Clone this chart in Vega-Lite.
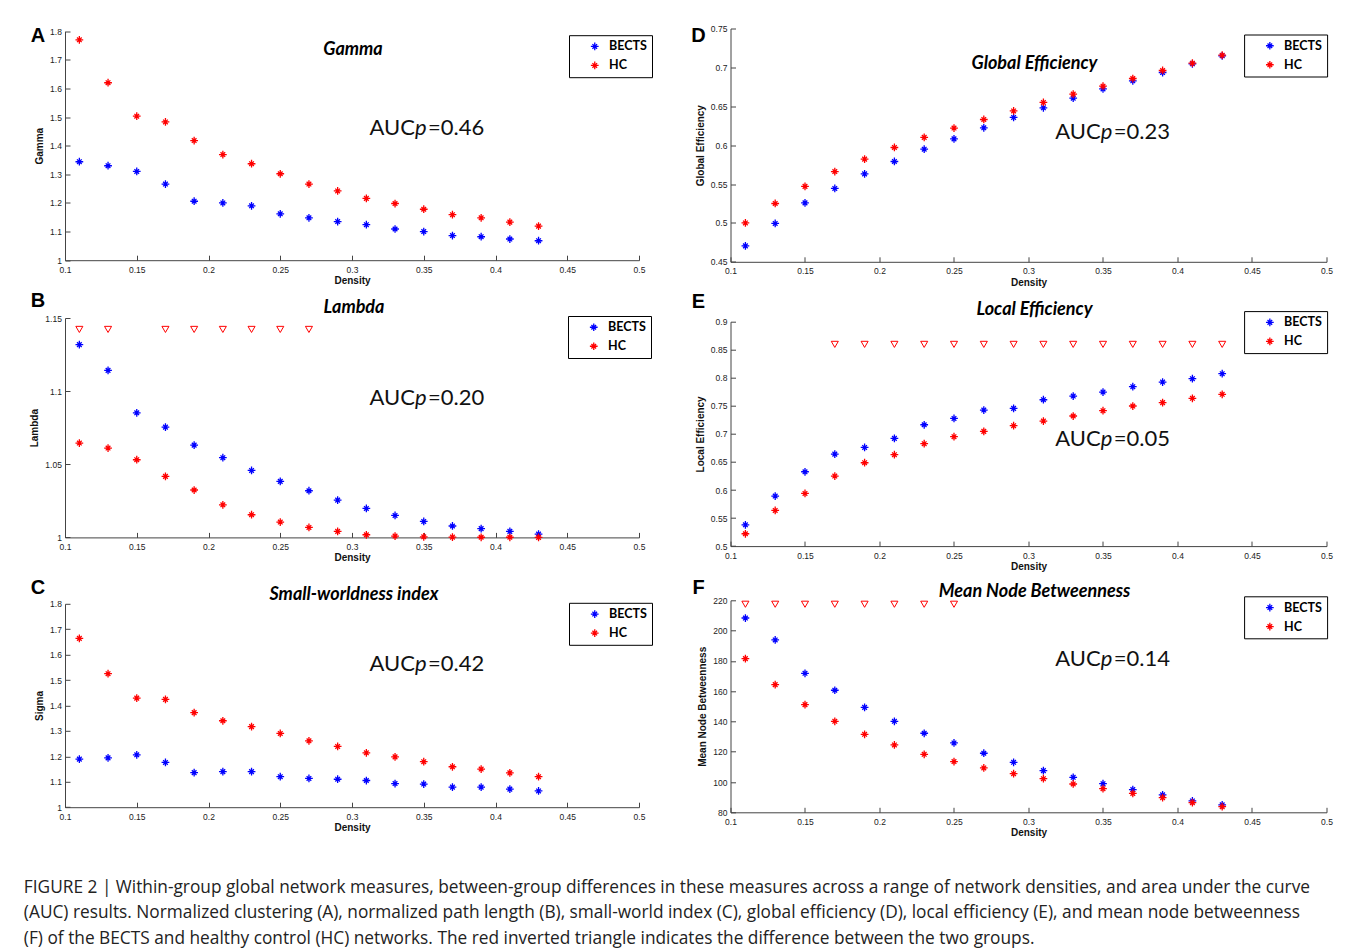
{
"$schema":"https://vega.github.io/schema/vega-lite/v6.json",
"background":"#ffffff",
"padding":{"left":23,"top":24.5,"right":5,"bottom":5},
"datasets":{
"pts":[
{"p":"A","g":"BECTS","d":0.11,"v":1.344},{"p":"A","g":"BECTS","d":0.13,"v":1.330},{"p":"A","g":"BECTS","d":0.15,"v":1.310},{"p":"A","g":"BECTS","d":0.17,"v":1.266},{"p":"A","g":"BECTS","d":0.19,"v":1.206},{"p":"A","g":"BECTS","d":0.21,"v":1.200},{"p":"A","g":"BECTS","d":0.23,"v":1.190},{"p":"A","g":"BECTS","d":0.25,"v":1.162},{"p":"A","g":"BECTS","d":0.27,"v":1.148},{"p":"A","g":"BECTS","d":0.29,"v":1.135},{"p":"A","g":"BECTS","d":0.31,"v":1.124},{"p":"A","g":"BECTS","d":0.33,"v":1.109},{"p":"A","g":"BECTS","d":0.35,"v":1.100},{"p":"A","g":"BECTS","d":0.37,"v":1.086},{"p":"A","g":"BECTS","d":0.39,"v":1.082},{"p":"A","g":"BECTS","d":0.41,"v":1.074},{"p":"A","g":"BECTS","d":0.43,"v":1.068},
{"p":"A","g":"HC","d":0.11,"v":1.770},{"p":"A","g":"HC","d":0.13,"v":1.620},{"p":"A","g":"HC","d":0.15,"v":1.503},{"p":"A","g":"HC","d":0.17,"v":1.483},{"p":"A","g":"HC","d":0.19,"v":1.418},{"p":"A","g":"HC","d":0.21,"v":1.369},{"p":"A","g":"HC","d":0.23,"v":1.337},{"p":"A","g":"HC","d":0.25,"v":1.302},{"p":"A","g":"HC","d":0.27,"v":1.266},{"p":"A","g":"HC","d":0.29,"v":1.242},{"p":"A","g":"HC","d":0.31,"v":1.216},{"p":"A","g":"HC","d":0.33,"v":1.198},{"p":"A","g":"HC","d":0.35,"v":1.178},{"p":"A","g":"HC","d":0.37,"v":1.159},{"p":"A","g":"HC","d":0.39,"v":1.148},{"p":"A","g":"HC","d":0.41,"v":1.133},{"p":"A","g":"HC","d":0.43,"v":1.119},
{"p":"B","g":"BECTS","d":0.11,"v":1.1318},{"p":"B","g":"BECTS","d":0.13,"v":1.1142},{"p":"B","g":"BECTS","d":0.15,"v":1.0852},{"p":"B","g":"BECTS","d":0.17,"v":1.0754},{"p":"B","g":"BECTS","d":0.19,"v":1.0631},{"p":"B","g":"BECTS","d":0.21,"v":1.0545},{"p":"B","g":"BECTS","d":0.23,"v":1.0458},{"p":"B","g":"BECTS","d":0.25,"v":1.0383},{"p":"B","g":"BECTS","d":0.27,"v":1.0319},{"p":"B","g":"BECTS","d":0.29,"v":1.0255},{"p":"B","g":"BECTS","d":0.31,"v":1.0198},{"p":"B","g":"BECTS","d":0.33,"v":1.0150},{"p":"B","g":"BECTS","d":0.35,"v":1.0109},{"p":"B","g":"BECTS","d":0.37,"v":1.0078},{"p":"B","g":"BECTS","d":0.39,"v":1.0060},{"p":"B","g":"BECTS","d":0.41,"v":1.0041},{"p":"B","g":"BECTS","d":0.43,"v":1.0023},
{"p":"B","g":"HC","d":0.11,"v":1.0645},{"p":"B","g":"HC","d":0.13,"v":1.0611},{"p":"B","g":"HC","d":0.15,"v":1.0531},{"p":"B","g":"HC","d":0.17,"v":1.0417},{"p":"B","g":"HC","d":0.19,"v":1.0324},{"p":"B","g":"HC","d":0.21,"v":1.0223},{"p":"B","g":"HC","d":0.23,"v":1.0155},{"p":"B","g":"HC","d":0.25,"v":1.0105},{"p":"B","g":"HC","d":0.27,"v":1.0068},{"p":"B","g":"HC","d":0.29,"v":1.0041},{"p":"B","g":"HC","d":0.31,"v":1.0018},{"p":"B","g":"HC","d":0.33,"v":1.0009},{"p":"B","g":"HC","d":0.35,"v":1.0004},{"p":"B","g":"HC","d":0.37,"v":1.0002},{"p":"B","g":"HC","d":0.39,"v":1.0001},{"p":"B","g":"HC","d":0.41,"v":1.0001},{"p":"B","g":"HC","d":0.43,"v":1.0000},
{"p":"C","g":"BECTS","d":0.11,"v":1.189},{"p":"C","g":"BECTS","d":0.13,"v":1.194},{"p":"C","g":"BECTS","d":0.15,"v":1.206},{"p":"C","g":"BECTS","d":0.17,"v":1.176},{"p":"C","g":"BECTS","d":0.19,"v":1.136},{"p":"C","g":"BECTS","d":0.21,"v":1.140},{"p":"C","g":"BECTS","d":0.23,"v":1.140},{"p":"C","g":"BECTS","d":0.25,"v":1.120},{"p":"C","g":"BECTS","d":0.27,"v":1.113},{"p":"C","g":"BECTS","d":0.29,"v":1.110},{"p":"C","g":"BECTS","d":0.31,"v":1.105},{"p":"C","g":"BECTS","d":0.33,"v":1.093},{"p":"C","g":"BECTS","d":0.35,"v":1.091},{"p":"C","g":"BECTS","d":0.37,"v":1.079},{"p":"C","g":"BECTS","d":0.39,"v":1.079},{"p":"C","g":"BECTS","d":0.41,"v":1.071},{"p":"C","g":"BECTS","d":0.43,"v":1.064},
{"p":"C","g":"HC","d":0.11,"v":1.664},{"p":"C","g":"HC","d":0.13,"v":1.525},{"p":"C","g":"HC","d":0.15,"v":1.429},{"p":"C","g":"HC","d":0.17,"v":1.424},{"p":"C","g":"HC","d":0.19,"v":1.372},{"p":"C","g":"HC","d":0.21,"v":1.340},{"p":"C","g":"HC","d":0.23,"v":1.317},{"p":"C","g":"HC","d":0.25,"v":1.290},{"p":"C","g":"HC","d":0.27,"v":1.261},{"p":"C","g":"HC","d":0.29,"v":1.239},{"p":"C","g":"HC","d":0.31,"v":1.214},{"p":"C","g":"HC","d":0.33,"v":1.198},{"p":"C","g":"HC","d":0.35,"v":1.179},{"p":"C","g":"HC","d":0.37,"v":1.159},{"p":"C","g":"HC","d":0.39,"v":1.150},{"p":"C","g":"HC","d":0.41,"v":1.135},{"p":"C","g":"HC","d":0.43,"v":1.120},
{"p":"D","g":"BECTS","d":0.11,"v":0.4705},{"p":"D","g":"BECTS","d":0.13,"v":0.4993},{"p":"D","g":"BECTS","d":0.15,"v":0.5258},{"p":"D","g":"BECTS","d":0.17,"v":0.5443},{"p":"D","g":"BECTS","d":0.19,"v":0.5631},{"p":"D","g":"BECTS","d":0.21,"v":0.5790},{"p":"D","g":"BECTS","d":0.23,"v":0.5948},{"p":"D","g":"BECTS","d":0.25,"v":0.6081},{"p":"D","g":"BECTS","d":0.27,"v":0.6223},{"p":"D","g":"BECTS","d":0.29,"v":0.6356},{"p":"D","g":"BECTS","d":0.31,"v":0.6480},{"p":"D","g":"BECTS","d":0.33,"v":0.6604},{"p":"D","g":"BECTS","d":0.35,"v":0.6724},{"p":"D","g":"BECTS","d":0.37,"v":0.6827},{"p":"D","g":"BECTS","d":0.39,"v":0.6934},{"p":"D","g":"BECTS","d":0.41,"v":0.7046},{"p":"D","g":"BECTS","d":0.43,"v":0.7149},
{"p":"D","g":"HC","d":0.11,"v":0.500},{"p":"D","g":"HC","d":0.13,"v":0.525},{"p":"D","g":"HC","d":0.15,"v":0.547},{"p":"D","g":"HC","d":0.17,"v":0.566},{"p":"D","g":"HC","d":0.19,"v":0.582},{"p":"D","g":"HC","d":0.21,"v":0.597},{"p":"D","g":"HC","d":0.23,"v":0.610},{"p":"D","g":"HC","d":0.25,"v":0.622},{"p":"D","g":"HC","d":0.27,"v":0.633},{"p":"D","g":"HC","d":0.29,"v":0.644},{"p":"D","g":"HC","d":0.31,"v":0.6549},{"p":"D","g":"HC","d":0.33,"v":0.6656},{"p":"D","g":"HC","d":0.35,"v":0.6758},{"p":"D","g":"HC","d":0.37,"v":0.6857},{"p":"D","g":"HC","d":0.39,"v":0.6960},{"p":"D","g":"HC","d":0.41,"v":0.7054},{"p":"D","g":"HC","d":0.43,"v":0.7157},
{"p":"E","g":"BECTS","d":0.11,"v":0.5380},{"p":"E","g":"BECTS","d":0.13,"v":0.5892},{"p":"E","g":"BECTS","d":0.15,"v":0.6325},{"p":"E","g":"BECTS","d":0.17,"v":0.6640},{"p":"E","g":"BECTS","d":0.19,"v":0.6759},{"p":"E","g":"BECTS","d":0.21,"v":0.6920},{"p":"E","g":"BECTS","d":0.23,"v":0.7163},{"p":"E","g":"BECTS","d":0.25,"v":0.7276},{"p":"E","g":"BECTS","d":0.27,"v":0.7425},{"p":"E","g":"BECTS","d":0.29,"v":0.7455},{"p":"E","g":"BECTS","d":0.31,"v":0.7609},{"p":"E","g":"BECTS","d":0.33,"v":0.7675},{"p":"E","g":"BECTS","d":0.35,"v":0.7746},{"p":"E","g":"BECTS","d":0.37,"v":0.7841},{"p":"E","g":"BECTS","d":0.39,"v":0.7924},{"p":"E","g":"BECTS","d":0.41,"v":0.7984},{"p":"E","g":"BECTS","d":0.43,"v":0.8073},
{"p":"E","g":"HC","d":0.11,"v":0.5220},{"p":"E","g":"HC","d":0.13,"v":0.5636},{"p":"E","g":"HC","d":0.15,"v":0.5939},{"p":"E","g":"HC","d":0.17,"v":0.6248},{"p":"E","g":"HC","d":0.19,"v":0.6486},{"p":"E","g":"HC","d":0.21,"v":0.6629},{"p":"E","g":"HC","d":0.23,"v":0.6825},{"p":"E","g":"HC","d":0.25,"v":0.6950},{"p":"E","g":"HC","d":0.27,"v":0.7045},{"p":"E","g":"HC","d":0.29,"v":0.7146},{"p":"E","g":"HC","d":0.31,"v":0.7229},{"p":"E","g":"HC","d":0.33,"v":0.7319},{"p":"E","g":"HC","d":0.35,"v":0.7414},{"p":"E","g":"HC","d":0.37,"v":0.7497},{"p":"E","g":"HC","d":0.39,"v":0.7557},{"p":"E","g":"HC","d":0.41,"v":0.7634},{"p":"E","g":"HC","d":0.43,"v":0.7706},
{"p":"F","g":"BECTS","d":0.11,"v":208.3},{"p":"F","g":"BECTS","d":0.13,"v":193.8},{"p":"F","g":"BECTS","d":0.15,"v":171.8},{"p":"F","g":"BECTS","d":0.17,"v":160.6},{"p":"F","g":"BECTS","d":0.19,"v":149.3},{"p":"F","g":"BECTS","d":0.21,"v":140.1},{"p":"F","g":"BECTS","d":0.23,"v":132.2},{"p":"F","g":"BECTS","d":0.25,"v":125.8},{"p":"F","g":"BECTS","d":0.27,"v":119.0},{"p":"F","g":"BECTS","d":0.29,"v":113.0},{"p":"F","g":"BECTS","d":0.31,"v":107.5},{"p":"F","g":"BECTS","d":0.33,"v":103.1},{"p":"F","g":"BECTS","d":0.35,"v":98.9},{"p":"F","g":"BECTS","d":0.37,"v":95.0},{"p":"F","g":"BECTS","d":0.39,"v":91.5},{"p":"F","g":"BECTS","d":0.41,"v":87.5},{"p":"F","g":"BECTS","d":0.43,"v":84.9},
{"p":"F","g":"HC","d":0.11,"v":181.5},{"p":"F","g":"HC","d":0.13,"v":164.3},{"p":"F","g":"HC","d":0.15,"v":151.1},{"p":"F","g":"HC","d":0.17,"v":140.1},{"p":"F","g":"HC","d":0.19,"v":131.5},{"p":"F","g":"HC","d":0.21,"v":124.5},{"p":"F","g":"HC","d":0.23,"v":118.3},{"p":"F","g":"HC","d":0.25,"v":113.5},{"p":"F","g":"HC","d":0.27,"v":109.3},{"p":"F","g":"HC","d":0.29,"v":105.5},{"p":"F","g":"HC","d":0.31,"v":102.2},{"p":"F","g":"HC","d":0.33,"v":98.7},{"p":"F","g":"HC","d":0.35,"v":95.6},{"p":"F","g":"HC","d":0.37,"v":92.5},{"p":"F","g":"HC","d":0.39,"v":89.7},{"p":"F","g":"HC","d":0.41,"v":86.4},{"p":"F","g":"HC","d":0.43,"v":83.7}
],
"sig":[
{"p":"B","d":0.11,"v":1.1422},{"p":"B","d":0.13,"v":1.1422},{"p":"B","d":0.17,"v":1.1422},{"p":"B","d":0.19,"v":1.1422},{"p":"B","d":0.21,"v":1.1422},{"p":"B","d":0.23,"v":1.1422},{"p":"B","d":0.25,"v":1.1422},{"p":"B","d":0.27,"v":1.1422},
{"p":"E","d":0.17,"v":0.8596},{"p":"E","d":0.19,"v":0.8596},{"p":"E","d":0.21,"v":0.8596},{"p":"E","d":0.23,"v":0.8596},{"p":"E","d":0.25,"v":0.8596},{"p":"E","d":0.27,"v":0.8596},{"p":"E","d":0.29,"v":0.8596},{"p":"E","d":0.31,"v":0.8596},{"p":"E","d":0.33,"v":0.8596},{"p":"E","d":0.35,"v":0.8596},{"p":"E","d":0.37,"v":0.8596},{"p":"E","d":0.39,"v":0.8596},{"p":"E","d":0.41,"v":0.8596},{"p":"E","d":0.43,"v":0.8596},
{"p":"F","d":0.11,"v":217.4},{"p":"F","d":0.13,"v":217.4},{"p":"F","d":0.15,"v":217.4},{"p":"F","d":0.17,"v":217.4},{"p":"F","d":0.19,"v":217.4},{"p":"F","d":0.21,"v":217.4},{"p":"F","d":0.23,"v":217.4},{"p":"F","d":0.25,"v":217.4}
]
},
"title":{"text":["FIGURE 2 | Within-group global network measures, between-group differences in these measures across a range of network densities, and area under the curve","(AUC) results. Normalized clustering (A), normalized path length (B), small-world index (C), global efficiency (D), local efficiency (E), and mean node betweenness","(F) of the BECTS and healthy control (HC) networks. The red inverted triangle indicates the difference between the two groups."],"orient":"bottom","anchor":"start","font":"Open Sans","fontSize":17.3,"fontWeight":"normal","color":"#222222","lineHeight":25.5,"offset":41,"dx":-6},
"hconcat":[
{"vconcat":[
 {"width":574,"height":231.7,"layer":[
  {"data":{"name":"pts"},"transform":[{"filter":"datum.p==='A'"}],"mark":{"type":"point","shape":"M-1,0L1,0M0,-1L0,1M-0.6,-0.6L0.6,0.6M-0.6,0.6L0.6,-0.6","filled":false,"size":60,"strokeWidth":1.3,"opacity":1},
   "encoding":{"x":{"field":"d","type":"quantitative","scale":{"domain":[0.1,0.5],"nice":false,"zero":false},"axis":{"values":[0.1,0.15,0.2,0.25,0.3,0.35,0.4,0.45,0.5],"tickCount":40,"format":"~f","labelOverlap":false,"title":"Density"}},
    "y":{"field":"v","type":"quantitative","scale":{"domain":[1,1.8],"range":[231.7,2.7],"nice":false,"zero":false},"axis":{"values":[1,1.1,1.2,1.3,1.4,1.5,1.6,1.7,1.8],"tickCount":40,"format":"~f","labelOverlap":false,"title":"Gamma"}},
    "color":{"field":"g","type":"nominal","scale":{"domain":["BECTS","HC"],"range":["#0000ff","#ff0000"]},"legend":{"orient":"none","legendX":504,"legendY":6.7,"title":"\u00a0","titleOrient":"left"}}}},
  {"data":{"values":[{}]},"mark":{"type":"text","text":"Gamma","font":"Lato","fontSize":18,"fontWeight":"bold","fontStyle":"italic","align":"center","baseline":"middle","dx":1,"dy":18.5,"color":"#000"},"encoding":{"x":{"datum":0.3},"y":{"datum":1.8}}},
  {"data":{"values":[{}]},"mark":{"type":"text","text":"A","font":"Liberation Sans","fontSize":20,"fontWeight":"bold","align":"center","baseline":"middle","dx":-27,"dy":4.5,"color":"#000"},"encoding":{"x":{"datum":0.1},"y":{"datum":1.8}}},
  {"data":{"values":[{}]},"mark":{"type":"text","text":"AUC","font":"Lato","fontSize":22,"align":"right","baseline":"alphabetic","color":"#111"},"encoding":{"x":{"datum":0.3439},"y":{"datum":1.439}}},
  {"data":{"values":[{}]},"mark":{"type":"text","text":"p","font":"Lato","fontSize":22,"fontStyle":"italic","align":"left","baseline":"alphabetic","color":"#111"},"encoding":{"x":{"datum":0.3439},"y":{"datum":1.439}}},
  {"data":{"values":[{}]},"mark":{"type":"text","text":"=0.46","font":"Lato","fontSize":22,"align":"left","baseline":"alphabetic","dx":13,"color":"#111"},"encoding":{"x":{"datum":0.3439},"y":{"datum":1.439}}}
 ]},
 {"vconcat":[
  {"width":574,"height":219.4,"layer":[
   {"data":{"name":"pts"},"transform":[{"filter":"datum.p==='B'"}],"mark":{"type":"point","shape":"M-1,0L1,0M0,-1L0,1M-0.6,-0.6L0.6,0.6M-0.6,0.6L0.6,-0.6","filled":false,"size":60,"strokeWidth":1.3,"opacity":1},
    "encoding":{"x":{"field":"d","type":"quantitative","scale":{"domain":[0.1,0.5],"nice":false,"zero":false},"axis":{"values":[0.1,0.15,0.2,0.25,0.3,0.35,0.4,0.45,0.5],"tickCount":40,"format":"~f","labelOverlap":false,"title":"Density"}},
     "y":{"field":"v","type":"quantitative","scale":{"domain":[1,1.15],"nice":false,"zero":false},"axis":{"values":[1,1.05,1.1,1.15],"tickCount":40,"format":"~f","labelOverlap":false,"title":"Lambda"}},
     "color":{"field":"g","type":"nominal","scale":{"domain":["BECTS","HC"],"range":["#0000ff","#ff0000"]},"legend":{"orient":"none","legendX":503,"legendY":-2,"title":"\u00a0","titleOrient":"left"}}}},
   {"data":{"name":"sig"},"transform":[{"filter":"datum.p==='B'"}],"mark":{"type":"point","shape":"triangle-down","filled":false,"size":50,"strokeWidth":1,"color":"#ff0000","opacity":1},"encoding":{"x":{"field":"d","type":"quantitative"},"y":{"field":"v","type":"quantitative"}}},
   {"data":{"values":[{}]},"mark":{"type":"text","text":"Lambda","font":"Lato","fontSize":18,"fontWeight":"bold","fontStyle":"italic","align":"center","baseline":"middle","dx":2,"dy":-10.5,"color":"#000"},"encoding":{"x":{"datum":0.3},"y":{"datum":1.15}}},
   {"data":{"values":[{}]},"mark":{"type":"text","text":"B","font":"Liberation Sans","fontSize":20,"fontWeight":"bold","align":"center","baseline":"middle","dx":-27,"dy":-16.6,"color":"#000"},"encoding":{"x":{"datum":0.1},"y":{"datum":1.15}}},
   {"data":{"values":[{}]},"mark":{"type":"text","text":"AUC","font":"Lato","fontSize":22,"align":"right","baseline":"alphabetic","color":"#111"},"encoding":{"x":{"datum":0.3439},"y":{"datum":1.0902}}},
   {"data":{"values":[{}]},"mark":{"type":"text","text":"p","font":"Lato","fontSize":22,"fontStyle":"italic","align":"left","baseline":"alphabetic","color":"#111"},"encoding":{"x":{"datum":0.3439},"y":{"datum":1.0902}}},
   {"data":{"values":[{}]},"mark":{"type":"text","text":"=0.20","font":"Lato","fontSize":22,"align":"left","baseline":"alphabetic","dx":13,"color":"#111"},"encoding":{"x":{"datum":0.3439},"y":{"datum":1.0902}}}
  ]},
  {"width":574,"height":203.4,"layer":[
   {"data":{"name":"pts"},"transform":[{"filter":"datum.p==='C'"}],"mark":{"type":"point","shape":"M-1,0L1,0M0,-1L0,1M-0.6,-0.6L0.6,0.6M-0.6,0.6L0.6,-0.6","filled":false,"size":60,"strokeWidth":1.3,"opacity":1},
    "encoding":{"x":{"field":"d","type":"quantitative","scale":{"domain":[0.1,0.5],"nice":false,"zero":false},"axis":{"values":[0.1,0.15,0.2,0.25,0.3,0.35,0.4,0.45,0.5],"tickCount":40,"format":"~f","labelOverlap":false,"title":"Density"}},
     "y":{"field":"v","type":"quantitative","scale":{"domain":[1,1.8],"nice":false,"zero":false},"axis":{"values":[1,1.1,1.2,1.3,1.4,1.5,1.6,1.7,1.8],"tickCount":40,"format":"~f","labelOverlap":false,"title":"Sigma"}},
     "color":{"field":"g","type":"nominal","scale":{"domain":["BECTS","HC"],"range":["#0000ff","#ff0000"]},"legend":{"orient":"none","legendX":504,"legendY":-1,"title":"\u00a0","titleOrient":"left"}}}},
   {"data":{"values":[{}]},"mark":{"type":"text","text":"Small-worldness index","font":"Lato","fontSize":18,"fontWeight":"bold","fontStyle":"italic","align":"center","baseline":"middle","dx":2,"dy":-8.5,"color":"#000"},"encoding":{"x":{"datum":0.3},"y":{"datum":1.8}}},
   {"data":{"values":[{}]},"mark":{"type":"text","text":"C","font":"Liberation Sans","fontSize":20,"fontWeight":"bold","align":"center","baseline":"middle","dx":-27,"dy":-16,"color":"#000"},"encoding":{"x":{"datum":0.1},"y":{"datum":1.8}}},
   {"data":{"values":[{}]},"mark":{"type":"text","text":"AUC","font":"Lato","fontSize":22,"align":"right","baseline":"alphabetic","color":"#111"},"encoding":{"x":{"datum":0.3439},"y":{"datum":1.5376}}},
   {"data":{"values":[{}]},"mark":{"type":"text","text":"p","font":"Lato","fontSize":22,"fontStyle":"italic","align":"left","baseline":"alphabetic","color":"#111"},"encoding":{"x":{"datum":0.3439},"y":{"datum":1.5376}}},
   {"data":{"values":[{}]},"mark":{"type":"text","text":"=0.42","font":"Lato","fontSize":22,"align":"left","baseline":"alphabetic","dx":13,"color":"#111"},"encoding":{"x":{"datum":0.3439},"y":{"datum":1.5376}}}
  ]}
 ],"spacing":14.8,"resolve":{"scale":{"color":"independent"},"legend":{"color":"independent"}}}
],"spacing":4.5,"resolve":{"scale":{"color":"independent"},"legend":{"color":"independent"}}},
{"vconcat":[
 {"width":596,"height":233.3,"layer":[
  {"data":{"name":"pts"},"transform":[{"filter":"datum.p==='D'"}],"mark":{"type":"point","shape":"M-1,0L1,0M0,-1L0,1M-0.6,-0.6L0.6,0.6M-0.6,0.6L0.6,-0.6","filled":false,"size":60,"strokeWidth":1.3,"opacity":1},
   "encoding":{"x":{"field":"d","type":"quantitative","scale":{"domain":[0.1,0.5],"nice":false,"zero":false},"axis":{"values":[0.1,0.15,0.2,0.25,0.3,0.35,0.4,0.45,0.5],"tickCount":40,"format":"~f","labelOverlap":false,"title":"Density"}},
    "y":{"field":"v","type":"quantitative","scale":{"domain":[0.45,0.75],"nice":false,"zero":false},"axis":{"values":[0.45,0.5,0.55,0.6,0.65,0.7,0.75],"tickCount":40,"format":"~f","labelOverlap":false,"title":"Global Efficiency"}},
    "color":{"field":"g","type":"nominal","scale":{"domain":["BECTS","HC"],"range":["#0000ff","#ff0000"]},"legend":{"orient":"none","legendX":513.6,"legendY":6,"title":"\u00a0","titleOrient":"left"}}}},
  {"data":{"values":[{}]},"mark":{"type":"text","text":"Global Efficiency","font":"Lato","fontSize":18,"fontWeight":"bold","fontStyle":"italic","align":"center","baseline":"middle","dx":6,"dy":35.5,"color":"#000"},"encoding":{"x":{"datum":0.3},"y":{"datum":0.75}}},
  {"data":{"values":[{}]},"mark":{"type":"text","text":"D","font":"Liberation Sans","fontSize":20,"fontWeight":"bold","align":"center","baseline":"middle","dx":-32,"dy":7.5,"color":"#000"},"encoding":{"x":{"datum":0.1},"y":{"datum":0.75}}},
  {"data":{"values":[{}]},"mark":{"type":"text","text":"AUC","font":"Lato","fontSize":22,"align":"right","baseline":"alphabetic","color":"#111"},"encoding":{"x":{"datum":0.3485},"y":{"datum":0.6082}}},
  {"data":{"values":[{}]},"mark":{"type":"text","text":"p","font":"Lato","fontSize":22,"fontStyle":"italic","align":"left","baseline":"alphabetic","color":"#111"},"encoding":{"x":{"datum":0.3485},"y":{"datum":0.6082}}},
  {"data":{"values":[{}]},"mark":{"type":"text","text":"=0.23","font":"Lato","fontSize":22,"align":"left","baseline":"alphabetic","dx":13,"color":"#111"},"encoding":{"x":{"datum":0.3485},"y":{"datum":0.6082}}}
 ]},
 {"vconcat":[
  {"width":596,"height":224.4,"layer":[
   {"data":{"name":"pts"},"transform":[{"filter":"datum.p==='E'"}],"mark":{"type":"point","shape":"M-1,0L1,0M0,-1L0,1M-0.6,-0.6L0.6,0.6M-0.6,0.6L0.6,-0.6","filled":false,"size":60,"strokeWidth":1.3,"opacity":1},
    "encoding":{"x":{"field":"d","type":"quantitative","scale":{"domain":[0.1,0.5],"nice":false,"zero":false},"axis":{"values":[0.1,0.15,0.2,0.25,0.3,0.35,0.4,0.45,0.5],"tickCount":40,"format":"~f","labelOverlap":false,"title":"Density"}},
     "y":{"field":"v","type":"quantitative","scale":{"domain":[0.5,0.9],"nice":false,"zero":false},"axis":{"values":[0.5,0.55,0.6,0.65,0.7,0.75,0.8,0.85,0.9],"tickCount":40,"format":"~f","labelOverlap":false,"title":"Local Efficiency"}},
     "color":{"field":"g","type":"nominal","scale":{"domain":["BECTS","HC"],"range":["#0000ff","#ff0000"]},"legend":{"orient":"none","legendX":513.6,"legendY":-10.6,"title":"\u00a0","titleOrient":"left"}}}},
   {"data":{"name":"sig"},"transform":[{"filter":"datum.p==='E'"}],"mark":{"type":"point","shape":"triangle-down","filled":false,"size":50,"strokeWidth":1,"color":"#ff0000","opacity":1},"encoding":{"x":{"field":"d","type":"quantitative"},"y":{"field":"v","type":"quantitative"}}},
   {"data":{"values":[{}]},"mark":{"type":"text","text":"Local Efficiency","font":"Lato","fontSize":18,"fontWeight":"bold","fontStyle":"italic","align":"center","baseline":"middle","dx":6,"dy":-11.5,"color":"#000"},"encoding":{"x":{"datum":0.3},"y":{"datum":0.9}}},
   {"data":{"values":[{}]},"mark":{"type":"text","text":"E","font":"Liberation Sans","fontSize":20,"fontWeight":"bold","align":"center","baseline":"middle","dx":-32,"dy":-19.6,"color":"#000"},"encoding":{"x":{"datum":0.1},"y":{"datum":0.9}}},
   {"data":{"values":[{}]},"mark":{"type":"text","text":"AUC","font":"Lato","fontSize":22,"align":"right","baseline":"alphabetic","color":"#111"},"encoding":{"x":{"datum":0.3485},"y":{"datum":0.6783}}},
   {"data":{"values":[{}]},"mark":{"type":"text","text":"p","font":"Lato","fontSize":22,"fontStyle":"italic","align":"left","baseline":"alphabetic","color":"#111"},"encoding":{"x":{"datum":0.3485},"y":{"datum":0.6783}}},
   {"data":{"values":[{}]},"mark":{"type":"text","text":"=0.05","font":"Lato","fontSize":22,"align":"left","baseline":"alphabetic","dx":13,"color":"#111"},"encoding":{"x":{"datum":0.3485},"y":{"datum":0.6783}}}
  ]},
  {"width":596,"height":212,"layer":[
   {"data":{"name":"pts"},"transform":[{"filter":"datum.p==='F'"}],"mark":{"type":"point","shape":"M-1,0L1,0M0,-1L0,1M-0.6,-0.6L0.6,0.6M-0.6,0.6L0.6,-0.6","filled":false,"size":60,"strokeWidth":1.3,"opacity":1},
    "encoding":{"x":{"field":"d","type":"quantitative","scale":{"domain":[0.1,0.5],"nice":false,"zero":false},"axis":{"values":[0.1,0.15,0.2,0.25,0.3,0.35,0.4,0.45,0.5],"tickCount":40,"format":"~f","labelOverlap":false,"title":"Density"}},
     "y":{"field":"v","type":"quantitative","scale":{"domain":[80,220],"nice":false,"zero":false},"axis":{"values":[80,100,120,140,160,180,200,220],"tickCount":40,"format":"~f","labelOverlap":false,"title":"Mean Node Betweenness"}},
     "color":{"field":"g","type":"nominal","scale":{"domain":["BECTS","HC"],"range":["#0000ff","#ff0000"]},"legend":{"orient":"none","legendX":513.6,"legendY":-4,"title":"\u00a0","titleOrient":"left"}}}},
   {"data":{"name":"sig"},"transform":[{"filter":"datum.p==='F'"}],"mark":{"type":"point","shape":"triangle-down","filled":false,"size":50,"strokeWidth":1,"color":"#ff0000","opacity":1},"encoding":{"x":{"field":"d","type":"quantitative"},"y":{"field":"v","type":"quantitative"}}},
   {"data":{"values":[{}]},"mark":{"type":"text","text":"Mean Node Betweenness","font":"Lato","fontSize":18,"fontWeight":"bold","fontStyle":"italic","align":"center","baseline":"middle","dx":6,"dy":-8.5,"color":"#000"},"encoding":{"x":{"datum":0.3},"y":{"datum":220}}},
   {"data":{"values":[{}]},"mark":{"type":"text","text":"F","font":"Liberation Sans","fontSize":20,"fontWeight":"bold","align":"center","baseline":"middle","dx":-32,"dy":-12.2,"color":"#000"},"encoding":{"x":{"datum":0.1},"y":{"datum":220}}},
   {"data":{"values":[{}]},"mark":{"type":"text","text":"AUC","font":"Lato","fontSize":22,"align":"right","baseline":"alphabetic","color":"#111"},"encoding":{"x":{"datum":0.3485},"y":{"datum":176.4}}},
   {"data":{"values":[{}]},"mark":{"type":"text","text":"p","font":"Lato","fontSize":22,"fontStyle":"italic","align":"left","baseline":"alphabetic","color":"#111"},"encoding":{"x":{"datum":0.3485},"y":{"datum":176.4}}},
   {"data":{"values":[{}]},"mark":{"type":"text","text":"=0.14","font":"Lato","fontSize":22,"align":"left","baseline":"alphabetic","dx":13,"color":"#111"},"encoding":{"x":{"datum":0.3485},"y":{"datum":176.4}}}
  ]}
 ],"spacing":5.6,"resolve":{"scale":{"color":"independent"},"legend":{"color":"independent"}}}
],"spacing":4.2,"resolve":{"scale":{"color":"independent"},"legend":{"color":"independent"}}}
],
"spacing":37.5,
"resolve":{"scale":{"color":"independent"},"legend":{"color":"independent"}},
"config":{
 "view":{"stroke":null},
 "axis":{"grid":false,"domainColor":"#444444","tickColor":"#444444","tickSize":-5,"labelFont":"Liberation Sans","labelFontSize":8.5,"labelColor":"#222222","labelFlush":false,"labelOverlap":false,"labelPadding":10,"titleFont":"Liberation Sans","titleFontSize":10,"titleFontWeight":"bold","titleColor":"#111111"},
 "axisX":{"titlePadding":2,"labelPadding":10},
 "axisY":{"titlePadding":5,"labelPadding":8.6},
 "legend":{"padding":5,"rowPadding":5,"labelOffset":8,"strokeColor":"#000000","fillColor":"#ffffff","labelFont":"Lato","labelFontSize":12.5,"labelFontWeight":"bold","labelColor":"#000000","titleFontSize":10,"titlePadding":14.5,"symbolType":"M-1,0L1,0M0,-1L0,1M-0.6,-0.6L0.6,0.6M-0.6,0.6L0.6,-0.6","symbolSize":60,"symbolStrokeWidth":1.3}
}
}
